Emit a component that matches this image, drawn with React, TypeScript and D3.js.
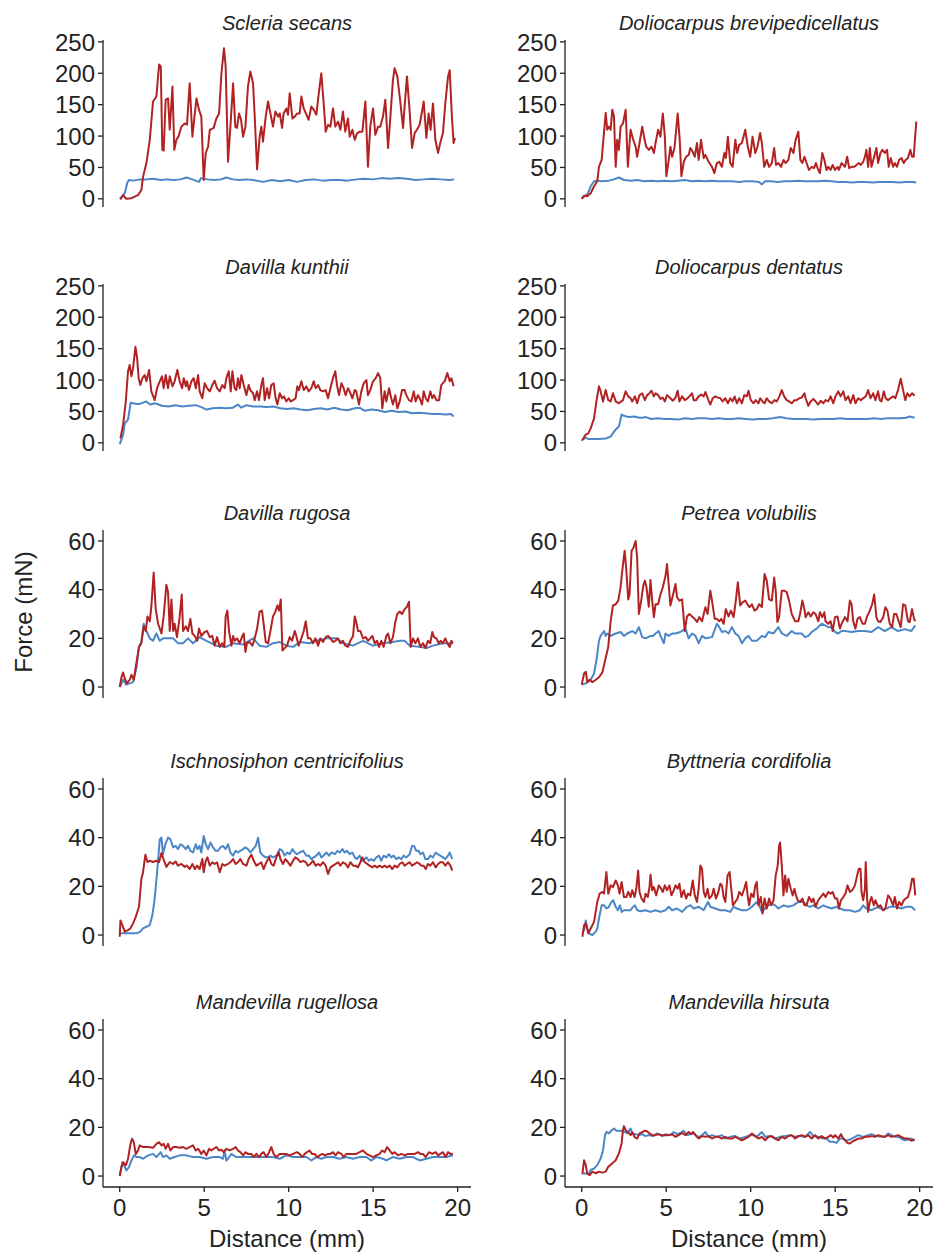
import React from 'react';
import * as d3 from 'd3';

type Pt = [number, number];

const panelTitles = [
  'Scleria secans', 'Doliocarpus brevipedicellatus',
  'Davilla kunthii', 'Doliocarpus dentatus',
  'Davilla rugosa', 'Petrea volubilis',
  'Ischnosiphon centricifolius', 'Byttneria cordifolia',
  'Mandevilla rugellosa', 'Mandevilla hirsuta',
];
const yTicksHigh = [0, 50, 100, 150, 200, 250];
const yTicksLow = [0, 20, 40, 60];
const xTicks = [0, 5, 10, 15, 20];

const scleriaRed: Pt[] = [[0.04,-1],[0.2,6],[0.39,0],[0.7,1],[1.08,6],[1.28,14],[1.38,35],[1.58,57],[1.78,94],[1.97,155],[2.17,163],[2.33,214],[2.43,211],[2.52,78],[2.6,77],[2.72,158],[2.86,160],[2.96,110],[3.12,179],[3.23,78],[3.35,94],[3.47,99],[3.65,115],[3.85,120],[3.98,118],[4.14,184],[4.3,99],[4.54,160],[4.69,142],[4.83,131],[4.97,30],[5.09,73],[5.23,83],[5.33,110],[5.56,113],[5.72,128],[5.88,136],[6.02,200],[6.17,240],[6.27,211],[6.41,59],[6.55,115],[6.71,184],[6.84,115],[6.94,113],[7.06,136],[7.18,126],[7.3,99],[7.44,115],[7.59,179],[7.73,203],[7.89,184],[7.99,131],[8.13,47],[8.28,99],[8.38,115],[8.48,91],[8.64,131],[8.78,155],[8.92,136],[9.07,115],[9.21,139],[9.37,131],[9.47,136],[9.61,113],[9.7,136],[9.86,144],[9.96,134],[10.06,168],[10.22,128],[10.36,131],[10.49,136],[10.65,136],[10.75,163],[10.89,144],[11.05,134],[11.18,126],[11.34,147],[11.48,142],[11.64,134],[11.78,168],[11.93,200],[12.07,152],[12.19,107],[12.33,118],[12.47,115],[12.62,144],[12.76,115],[12.92,123],[13.06,110],[13.21,139],[13.35,107],[13.51,128],[13.61,99],[13.77,110],[13.91,94],[14.04,104],[14.2,107],[14.36,107],[14.54,155],[14.69,51],[14.83,115],[14.99,144],[15.13,102],[15.29,115],[15.42,115],[15.58,131],[15.72,158],[15.88,81],[16.02,131],[16.17,189],[16.27,208],[16.43,195],[16.57,163],[16.77,113],[16.86,147],[17.0,195],[17.16,139],[17.3,81],[17.46,105],[17.59,110],[17.75,118],[17.89,139],[17.99,155],[18.15,97],[18.28,136],[18.4,110],[18.54,152],[18.68,94],[18.84,73],[18.97,89],[19.13,105],[19.27,152],[19.43,195],[19.53,205],[19.66,131],[19.76,89],[19.84,97]];
const scleriaBlue: Pt[] = [[0,0],[0.15,4],[0.3,9],[0.45,26],[0.55,30],[0.8,29],[1.2,31],[1.6,31],[2.0,32],[2.4,30],[2.8,31],[3.2,30],[3.6,31],[3.95,34],[4.3,31],[4.7,27],[4.8,33],[5.2,31],[5.6,30],[6.0,31],[6.3,34],[6.7,31],[7.1,30],[7.5,31],[7.9,30],[8.5,27],[9.0,30],[9.5,28],[10,30],[10.5,27],[11,30],[11.5,31],[12,29],[12.5,30],[13,30],[13.5,29],[14,31],[14.5,32],[15,31],[15.5,33],[16,32],[16.5,33],[17,32],[17.5,30],[18,31],[18.5,32],[19,31],[19.5,30],[19.8,31]];

const brevRed: Pt[] = [[0,0],[0.14,5],[0.33,4],[0.53,9],[0.73,20],[0.92,28],[1.02,51],[1.18,62],[1.28,94],[1.42,137],[1.51,110],[1.61,115],[1.71,110],[1.81,142],[1.91,131],[2.01,51],[2.1,94],[2.2,78],[2.3,115],[2.44,120],[2.6,142],[2.73,51],[2.89,110],[3.05,94],[3.19,83],[3.28,67],[3.42,89],[3.58,115],[3.72,94],[3.82,83],[3.97,78],[4.13,83],[4.27,73],[4.37,89],[4.52,110],[4.66,99],[4.8,136],[4.92,99],[5.01,36],[5.15,62],[5.25,83],[5.35,67],[5.49,81],[5.68,136],[5.8,94],[5.9,36],[6.04,59],[6.18,67],[6.33,70],[6.43,81],[6.57,75],[6.69,67],[6.82,89],[6.92,62],[7.06,94],[7.22,65],[7.32,70],[7.51,59],[7.71,51],[7.85,41],[8.0,57],[8.14,59],[8.3,51],[8.44,73],[8.53,65],[8.65,99],[8.79,57],[8.93,51],[9.09,94],[9.2,73],[9.32,86],[9.48,89],[9.68,110],[9.83,83],[9.97,67],[10.11,99],[10.27,73],[10.4,83],[10.56,105],[10.66,89],[10.8,51],[10.95,62],[11.09,51],[11.25,57],[11.39,81],[11.5,54],[11.64,57],[11.8,51],[11.94,62],[12.07,57],[12.23,62],[12.37,81],[12.53,73],[12.66,94],[12.82,107],[12.94,62],[13.06,57],[13.18,67],[13.31,57],[13.45,46],[13.61,51],[13.75,49],[13.86,57],[14.0,46],[14.1,41],[14.24,73],[14.36,62],[14.49,46],[14.59,51],[14.73,46],[14.85,54],[14.99,46],[15.14,51],[15.22,46],[15.38,57],[15.58,51],[15.71,67],[15.83,49],[15.97,51],[16.13,51],[16.26,54],[16.4,57],[16.52,54],[16.66,59],[16.76,67],[16.85,78],[16.95,51],[17.05,81],[17.15,51],[17.31,67],[17.44,81],[17.54,57],[17.68,73],[17.8,78],[17.94,73],[18.07,78],[18.17,51],[18.29,65],[18.43,51],[18.53,57],[18.66,51],[18.78,62],[18.92,65],[19.06,57],[19.17,62],[19.31,65],[19.45,78],[19.55,67],[19.65,67],[19.8,123]];
const brevBlue: Pt[] = [[0,0],[0.2,5],[0.35,8],[0.53,20],[0.73,28],[0.9,29],[1.2,28],[1.6,29],[1.9,31],[2.2,34],[2.5,30],[2.9,29],[3.3,30],[3.7,28],[4.1,29],[4.5,28],[4.9,29],[5.3,28],[5.7,29],[6.1,30],[6.5,28],[6.9,29],[7.3,28],[7.7,29],[8.1,28],[8.5,28],[8.9,28],[9.3,27],[9.7,28],[10.1,28],[10.5,27],[10.66,23],[10.85,28],[11.2,28],[11.6,27],[12.0,28],[12.4,28],[12.8,29],[13.2,28],[13.6,28],[14.0,28],[14.4,29],[14.8,28],[15.2,27],[15.6,27],[16.0,26],[16.4,27],[16.8,27],[17.2,26],[17.6,27],[18.0,27],[18.4,27],[18.8,26],[19.2,27],[19.6,27],[19.8,26]];

const kunthiiRed: Pt[] = [[0.04,7],[0.2,29],[0.36,66],[0.49,114],[0.59,124],[0.69,106],[0.79,119],[0.93,153],[1.03,135],[1.12,103],[1.22,92],[1.34,103],[1.48,108],[1.58,98],[1.74,116],[1.87,82],[2.07,68],[2.21,87],[2.37,98],[2.5,106],[2.6,87],[2.72,108],[2.86,87],[2.96,106],[3.12,90],[3.25,98],[3.41,116],[3.55,98],[3.69,87],[3.79,103],[3.91,90],[3.98,98],[4.1,84],[4.24,98],[4.38,103],[4.5,87],[4.64,108],[4.73,82],[4.89,71],[5.03,95],[5.17,87],[5.33,82],[5.48,92],[5.62,99],[5.76,87],[5.92,82],[6.07,92],[6.21,87],[6.31,103],[6.45,114],[6.57,82],[6.67,114],[6.8,87],[6.9,84],[7.0,103],[7.1,87],[7.2,108],[7.34,92],[7.5,76],[7.63,92],[7.73,84],[7.89,79],[7.99,68],[8.13,82],[8.24,68],[8.38,92],[8.48,103],[8.58,68],[8.72,87],[8.84,71],[8.97,92],[9.11,95],[9.23,71],[9.33,61],[9.47,79],[9.61,71],[9.72,74],[9.86,66],[10.0,71],[10.12,66],[10.26,68],[10.41,71],[10.51,90],[10.61,84],[10.75,98],[10.89,84],[11.05,90],[11.18,82],[11.34,87],[11.48,98],[11.6,87],[11.74,92],[11.87,84],[12.03,82],[12.19,84],[12.33,71],[12.47,87],[12.62,103],[12.76,114],[12.86,92],[12.98,76],[13.12,95],[13.25,87],[13.37,76],[13.51,87],[13.61,82],[13.77,71],[13.91,84],[14.0,82],[14.16,61],[14.3,82],[14.44,95],[14.6,100],[14.69,76],[14.83,84],[14.99,98],[15.15,103],[15.29,111],[15.42,103],[15.54,55],[15.68,82],[15.78,66],[15.94,87],[16.07,71],[16.17,61],[16.31,76],[16.43,55],[16.57,66],[16.71,84],[16.86,84],[16.96,76],[17.12,68],[17.26,66],[17.4,82],[17.51,66],[17.65,76],[17.75,71],[17.89,61],[17.99,82],[18.11,71],[18.24,66],[18.38,82],[18.5,71],[18.6,76],[18.74,68],[18.9,68],[19.03,92],[19.13,95],[19.23,98],[19.39,111],[19.53,98],[19.63,103],[19.76,90]];
const kunthiiBlue: Pt[] = [[0,-2],[0.2,13],[0.3,31],[0.49,37],[0.65,64],[0.79,63],[1.0,62],[1.18,62],[1.58,66],[1.8,61],[2.1,63],[2.5,59],[2.9,58],[3.3,60],[3.7,58],[4.1,59],[4.5,60],[4.9,56],[5.13,53],[5.5,55],[5.9,56],[6.3,55],[6.7,56],[7.0,61],[7.2,56],[7.5,60],[7.9,58],[8.3,58],[8.7,57],[9.1,58],[9.5,55],[9.9,54],[10.3,55],[10.7,53],[11.1,52],[11.5,54],[11.9,55],[12.3,53],[12.7,56],[13.1,53],[13.5,52],[13.9,55],[14.2,56],[14.5,51],[14.9,53],[15.3,52],[15.7,49],[16.1,51],[16.5,49],[16.9,50],[17.3,47],[17.7,48],[18.1,47],[18.5,46],[18.9,46],[19.3,45],[19.6,46],[19.76,42]];

const dentatusRed: Pt[] = [[0.04,5],[0.24,13],[0.39,15],[0.53,23],[0.73,39],[0.87,66],[1.02,90],[1.12,82],[1.26,66],[1.42,84],[1.57,68],[1.71,66],[1.85,79],[2.01,66],[2.2,63],[2.44,68],[2.6,82],[2.75,74],[2.89,71],[2.99,66],[3.15,74],[3.28,63],[3.42,76],[3.58,79],[3.74,68],[3.87,76],[4.01,79],[4.13,83],[4.27,74],[4.37,79],[4.52,76],[4.66,70],[4.8,72],[4.92,66],[5.05,76],[5.25,71],[5.39,67],[5.55,72],[5.68,83],[5.78,66],[5.94,74],[6.1,68],[6.23,70],[6.37,74],[6.53,79],[6.63,68],[6.77,68],[6.92,74],[7.08,77],[7.22,74],[7.32,81],[7.47,70],[7.61,61],[7.75,71],[7.91,74],[8.06,72],[8.2,71],[8.34,66],[8.5,71],[8.65,63],[8.79,71],[8.93,66],[9.05,74],[9.18,63],[9.32,71],[9.48,63],[9.62,76],[9.77,74],[9.87,83],[10.01,68],[10.17,63],[10.3,68],[10.46,63],[10.56,71],[10.7,66],[10.82,63],[10.95,71],[11.09,66],[11.25,63],[11.41,68],[11.54,66],[11.7,74],[11.84,84],[11.98,74],[12.13,68],[12.27,66],[12.43,63],[12.59,68],[12.72,68],[12.88,71],[13.02,72],[13.18,79],[13.25,71],[13.41,59],[13.55,66],[13.71,70],[13.84,66],[14.0,61],[14.14,67],[14.3,63],[14.43,68],[14.59,66],[14.73,74],[14.89,63],[15.02,74],[15.18,82],[15.32,74],[15.48,82],[15.61,68],[15.77,74],[15.91,63],[16.07,76],[16.2,63],[16.36,71],[16.52,68],[16.66,71],[16.81,74],[16.95,84],[17.09,71],[17.25,79],[17.38,68],[17.54,82],[17.64,68],[17.74,66],[17.88,82],[17.99,71],[18.13,68],[18.27,71],[18.43,74],[18.56,71],[18.72,84],[18.88,102],[19.02,84],[19.15,68],[19.27,79],[19.41,74],[19.55,79],[19.7,75]];
const dentatusBlue: Pt[] = [[0,3],[0.04,5],[0.24,8],[0.43,6],[0.63,6],[1.02,6],[1.42,7],[1.71,10],[2.0,21],[2.2,26],[2.36,45],[2.5,43],[2.8,41],[3.1,42],[3.4,40],[3.6,40],[3.8,41],[4.1,38],[4.5,39],[4.9,38],[5.3,38],[5.7,37],[6.1,39],[6.5,38],[6.9,39],[7.3,39],[7.7,38],[8.1,39],[8.5,38],[8.9,38],[9.3,39],[9.7,38],[10.1,37],[10.5,38],[10.9,38],[11.3,39],[11.74,41],[12.1,39],[12.5,38],[12.9,38],[13.3,38],[13.7,37],[14.1,38],[14.5,38],[14.9,38],[15.3,39],[15.7,38],[16.1,38],[16.5,38],[16.9,38],[17.3,39],[17.7,38],[18.1,39],[18.5,39],[18.9,39],[19.2,40],[19.4,42],[19.7,40]];

const rugosaRed: Pt[] = [[0,0],[0.1,4],[0.2,6],[0.3,3.5],[0.43,1.5],[0.59,3],[0.69,5],[0.83,3],[0.99,10],[1.14,16.5],[1.28,18],[1.42,25],[1.54,23],[1.64,29],[1.78,27],[1.87,33],[2.01,47],[2.13,32],[2.27,26],[2.47,22],[2.6,29],[2.76,42],[2.86,39],[2.96,23],[3.06,36],[3.16,23],[3.25,26],[3.39,20.5],[3.55,29],[3.67,38],[3.75,23],[3.91,25],[4.04,23],[4.18,28],[4.3,22],[4.44,21],[4.58,19],[4.69,24],[4.83,21],[5.03,22.6],[5.17,23],[5.33,20.5],[5.48,21],[5.62,17],[5.76,20.5],[5.92,16.5],[6.06,18],[6.19,16.5],[6.27,29],[6.37,31.4],[6.47,23],[6.61,17],[6.71,21],[6.8,19],[6.94,20],[7.1,18],[7.26,21],[7.34,22],[7.44,14.4],[7.53,18],[7.69,18.5],[7.85,17],[7.99,20],[8.13,24],[8.28,31],[8.42,31.4],[8.54,24.6],[8.64,18.5],[8.78,18],[8.92,23],[9.07,29],[9.21,31],[9.33,33.5],[9.43,31.4],[9.53,36],[9.63,15],[9.76,16],[9.9,17],[10.06,20.5],[10.2,19],[10.36,23],[10.45,21],[10.59,17],[10.75,20],[10.89,23],[11.01,27],[11.14,20],[11.28,20],[11.44,18],[11.58,20],[11.74,17],[11.87,20],[12.03,18.5],[12.19,20.5],[12.33,21],[12.47,20],[12.62,18.5],[12.76,19],[12.92,20],[13.06,18],[13.21,19],[13.35,17],[13.51,16.5],[13.65,19],[13.81,21],[13.91,29],[14.0,26.7],[14.1,23],[14.24,23],[14.4,20],[14.56,20.5],[14.69,19],[14.83,20],[14.95,21],[15.09,18],[15.23,19],[15.35,16.5],[15.48,19],[15.62,16.5],[15.78,21],[15.88,22],[16.02,18],[16.17,20.5],[16.31,26.7],[16.43,30],[16.57,31],[16.71,30],[16.86,32],[17.0,33],[17.12,35],[17.22,16.5],[17.36,20],[17.5,18],[17.65,20],[17.79,16.5],[17.95,18],[18.09,16],[18.24,19],[18.38,18],[18.5,22.6],[18.6,20.5],[18.74,20],[18.88,18],[18.99,19],[19.13,18],[19.27,20],[19.39,18],[19.53,16.5],[19.63,19],[19.72,18]];
const rugosaBlue: Pt[] = [[0,0],[0.2,3],[0.39,1],[0.59,1.5],[0.79,2],[0.99,8],[1.14,16.5],[1.28,18.5],[1.42,26],[1.58,23],[1.78,20],[1.97,19],[2.17,22],[2.37,19],[2.56,20],[2.9,20],[3.16,20],[3.45,18],[3.75,18],[4.04,20],[4.34,18],[4.73,20.5],[5.13,19],[5.72,17],[6.31,16.5],[6.71,18],[7.3,17.5],[7.89,20],[8.28,17],[8.68,16.5],[9.07,18],[9.47,18.5],[9.86,17],[10.26,16.5],[10.65,18.5],[11.24,18],[11.64,19],[12.23,20],[12.82,20],[13.21,18],[13.8,17],[14.4,19],[14.99,17],[15.58,18],[16.17,18.5],[16.57,19],[16.86,19],[17.16,17],[17.75,16.5],[18.15,16],[18.54,17],[19.13,18],[19.72,18]];

const petreaRed: Pt[] = [[0,1],[0.14,5.6],[0.24,6.3],[0.33,2],[0.47,3],[0.63,2],[0.83,3],[1.02,4],[1.22,6],[1.42,12],[1.57,16.5],[1.71,27],[1.85,33.5],[2.01,34],[2.16,35.5],[2.3,41],[2.4,47.8],[2.54,56],[2.64,48],[2.75,36],[2.83,38],[2.95,56],[3.05,57],[3.19,60],[3.28,53],[3.38,30],[3.52,35.5],[3.64,41.6],[3.74,43.7],[3.83,41],[3.97,33],[4.07,44],[4.17,35.5],[4.27,28.7],[4.37,34],[4.52,34],[4.66,38],[4.8,41],[4.96,45.7],[5.05,50.5],[5.15,41.6],[5.25,33.5],[5.39,37.5],[5.55,42.3],[5.64,36.9],[5.78,35.5],[5.94,36],[6.1,23],[6.23,29],[6.37,30],[6.53,29],[6.69,28],[6.82,26.7],[6.96,28.7],[7.12,27],[7.32,32.8],[7.45,30],[7.61,39.6],[7.71,35.5],[7.87,28],[8.0,28],[8.14,27],[8.26,28],[8.4,26],[8.53,32],[8.69,29],[8.83,31.4],[8.99,28.7],[9.12,35.5],[9.24,43],[9.38,33.5],[9.52,34.8],[9.68,35.5],[9.81,34],[9.93,32.8],[10.07,34],[10.23,31.4],[10.36,32],[10.5,34],[10.66,32.8],[10.82,46.4],[10.95,43.7],[11.09,36],[11.25,35.5],[11.39,45],[11.48,39.6],[11.58,26.7],[11.68,28.7],[11.84,39.6],[11.98,39.6],[12.13,39],[12.27,35.5],[12.43,30],[12.63,27],[12.82,27],[12.92,30],[13.06,35.5],[13.18,32],[13.25,28.7],[13.41,30.7],[13.55,29],[13.71,30.7],[13.84,30],[14.0,27],[14.1,30.7],[14.24,28.7],[14.36,30.7],[14.43,27],[14.59,26],[14.73,27],[14.85,23],[14.99,28.7],[15.14,29],[15.28,24],[15.38,26],[15.58,28.7],[15.73,27],[15.87,35.5],[15.97,34],[16.07,27],[16.2,24],[16.32,28],[16.46,28.7],[16.62,26],[16.76,26],[16.89,29],[17.05,31.4],[17.19,34],[17.31,38],[17.44,28.7],[17.54,27],[17.68,26.7],[17.84,28.7],[17.97,32.8],[18.09,31.4],[18.23,26],[18.37,24.6],[18.49,30],[18.62,30],[18.76,27],[18.88,24.6],[19.02,34],[19.15,33.5],[19.31,27],[19.41,26.7],[19.55,32],[19.67,28],[19.74,27]];
const petreaBlue: Pt[] = [[0,1],[0.24,1.5],[0.53,3],[0.73,5.6],[0.87,11],[1.02,19],[1.12,21],[1.32,23],[1.42,21],[1.51,22],[1.71,21],[2.01,22],[2.3,22.6],[2.5,21],[2.69,22],[2.99,23],[3.19,22],[3.38,24.6],[3.58,20.5],[3.78,20],[4.07,21],[4.21,21],[4.37,22],[4.56,23],[4.66,21],[4.86,18],[4.96,22],[5.15,21],[5.35,22],[5.55,22],[5.84,22.6],[6.14,24],[6.33,20],[6.53,22],[6.73,21],[6.92,18],[7.12,21],[7.32,20],[7.71,20.5],[8.0,26],[8.14,24.6],[8.3,22.6],[8.5,23],[8.69,22],[8.89,24.6],[9.09,22],[9.28,21],[9.48,18],[9.68,20],[9.87,21],[10.07,19],[10.36,19],[10.66,21],[10.86,20.5],[11.05,22.6],[11.35,22],[11.64,24.6],[11.84,22],[12.13,21],[12.43,23],[12.63,22],[13.02,22],[13.22,20.5],[13.41,21],[13.61,22.6],[13.9,24],[14.2,26],[14.4,25.3],[14.59,24.6],[14.79,24.6],[14.99,22.6],[15.18,22],[15.38,23],[15.58,23],[15.97,22.6],[16.36,23],[16.76,23],[17.15,22.6],[17.54,24.6],[17.94,23],[18.33,24.6],[18.72,23],[19.12,23.8],[19.51,23],[19.74,25.3]];

const ischnoRed: Pt[] = [[0,-0.7],[0.04,6],[0.16,4],[0.3,1.4],[0.49,2],[0.63,2.7],[0.79,4.8],[0.95,7.5],[1.14,11.6],[1.28,23],[1.38,25.8],[1.52,33],[1.64,30],[1.78,30.5],[1.97,30],[2.17,30.5],[2.33,30],[2.47,33.7],[2.6,31],[2.76,28],[2.96,30],[3.16,29.2],[3.31,30.2],[3.45,28.5],[3.65,29.2],[3.85,28],[3.98,28.5],[4.14,27.1],[4.3,29.2],[4.44,27.1],[4.58,28.5],[4.73,27.1],[4.89,31.2],[4.97,25.8],[5.09,30.5],[5.19,31.9],[5.33,28.5],[5.48,29.9],[5.62,29.2],[5.76,29.9],[5.92,25.8],[6.07,29.2],[6.21,28.5],[6.41,29.2],[6.55,29.9],[6.71,31.2],[6.86,29.2],[7.0,29.9],[7.14,31.2],[7.3,29.2],[7.5,28.5],[7.63,31.2],[7.79,33],[7.93,30.5],[8.09,28.5],[8.24,29.2],[8.38,29.9],[8.52,27.1],[8.68,29.9],[8.84,31.9],[8.97,29.2],[9.11,28.5],[9.27,31.9],[9.41,34],[9.51,31.2],[9.66,29.2],[9.8,31.2],[9.96,29.9],[10.1,28.5],[10.26,30.5],[10.39,31.9],[10.55,31.2],[10.69,29.9],[10.85,30.5],[11.01,29.9],[11.14,28.5],[11.28,29.2],[11.44,30.5],[11.6,28.5],[11.74,29.2],[11.87,28.5],[12.03,29.9],[12.19,28.5],[12.33,25.1],[12.47,27.8],[12.62,28.5],[12.78,29.2],[12.92,29.9],[13.06,28.5],[13.21,29.9],[13.37,29.2],[13.51,27.8],[13.65,29.9],[13.81,28.5],[13.96,28.5],[14.1,27.8],[14.24,29.9],[14.36,31.9],[14.5,29.9],[14.65,29.2],[14.79,28.5],[14.95,27.8],[15.09,28.5],[15.23,27.8],[15.38,28.5],[15.54,27.8],[15.68,28.5],[15.82,27.8],[15.98,28.5],[16.13,27.1],[16.27,28.5],[16.43,27.8],[16.57,29.2],[16.73,29.9],[16.86,28.5],[17.0,29.2],[17.16,29.9],[17.3,28.5],[17.46,29.2],[17.59,29.9],[17.75,29.2],[17.85,28.5],[17.99,28.5],[18.11,27.1],[18.24,29.2],[18.38,28.5],[18.54,29.9],[18.7,27.8],[18.84,29.2],[18.97,29.9],[19.13,29.9],[19.27,28.5],[19.43,29.9],[19.57,28.5],[19.68,26.5]];
const ischnoBlue: Pt[] = [[0,0.7],[0.2,0.7],[0.59,0.7],[0.99,0.7],[1.22,1.4],[1.38,2.7],[1.58,3.4],[1.78,4.1],[1.93,8.1],[2.07,14.9],[2.21,25.8],[2.37,39.3],[2.47,40],[2.56,33.2],[2.7,37.3],[2.86,40],[3.0,39.3],[3.16,36],[3.31,36.6],[3.45,35.3],[3.59,37.3],[3.75,36.6],[3.91,35.3],[4.04,36.6],[4.18,34.6],[4.34,33.9],[4.5,37.3],[4.6,35.3],[4.73,36.6],[4.83,33.9],[4.97,40.7],[5.09,37.3],[5.23,35.3],[5.37,38],[5.52,36],[5.68,34.6],[5.82,34.6],[5.96,36],[6.11,36.6],[6.27,35.3],[6.41,37.3],[6.55,33.9],[6.71,32.6],[6.86,34.6],[7.0,33.9],[7.14,34.6],[7.3,35.3],[7.44,36],[7.59,35.3],[7.73,33.9],[7.89,35.3],[8.05,36.6],[8.19,40],[8.32,33.9],[8.48,32.6],[8.64,31.9],[8.78,31.9],[8.92,32.6],[9.07,31.9],[9.27,32.6],[9.47,35.3],[9.63,34.6],[9.76,32.6],[9.92,33.9],[10.06,33.2],[10.22,35.3],[10.36,33.9],[10.49,33.2],[10.65,33.9],[10.85,34.6],[11.05,32.6],[11.2,32.6],[11.34,31.2],[11.48,31.9],[11.64,32.6],[11.8,33.9],[11.93,31.9],[12.07,32.6],[12.23,33.9],[12.39,32.6],[12.53,33.9],[12.74,33.2],[12.88,34.6],[13.02,33.9],[13.18,35.3],[13.31,33.9],[13.45,34.6],[13.61,33.2],[13.77,33.9],[13.91,31.9],[14.04,31.2],[14.2,32.6],[14.34,30.5],[14.5,31.2],[14.6,31.9],[14.75,30.5],[14.89,31.2],[15.03,30.5],[15.19,31.9],[15.35,32.6],[15.48,30.5],[15.62,32.6],[15.78,31.9],[15.94,33.2],[16.07,31.9],[16.21,32.6],[16.37,31.2],[16.51,31.9],[16.67,31.2],[16.8,32.6],[16.96,31.9],[17.16,33.2],[17.3,36.6],[17.42,36.6],[17.55,34.6],[17.69,34.6],[17.79,33.2],[17.95,33.9],[18.09,31.2],[18.24,31.2],[18.38,32.6],[18.54,31.9],[18.7,33.9],[18.84,33.2],[18.97,32.6],[19.13,31.9],[19.27,31.2],[19.43,32.6],[19.53,33.9],[19.68,31.2]];

const byttRed: Pt[] = [[0.04,-0.7],[0.14,4],[0.24,4.8],[0.39,0.7],[0.53,2.7],[0.73,5.4],[0.92,13.6],[1.06,17],[1.22,17.7],[1.32,17],[1.46,25.9],[1.57,17],[1.71,20.4],[1.85,19.7],[2.01,22.4],[2.14,20.4],[2.24,17],[2.36,21.8],[2.5,15.6],[2.64,15.6],[2.75,17.7],[2.89,15.6],[2.99,18.4],[3.13,15.6],[3.23,19],[3.34,26.5],[3.42,17.7],[3.54,15],[3.68,13.6],[3.78,17],[3.91,15.6],[4.01,19.7],[4.07,24.8],[4.17,18.4],[4.27,19.7],[4.41,16.3],[4.56,20.4],[4.7,19],[4.8,17.7],[4.92,20.4],[5.05,18.4],[5.19,20.4],[5.31,16.3],[5.45,18.4],[5.55,20.4],[5.68,19],[5.78,21.1],[5.9,15.6],[6.04,18.4],[6.18,15],[6.29,17],[6.43,16.3],[6.57,22.4],[6.69,16.3],[6.82,13.6],[6.92,19],[7.02,28.6],[7.12,27.2],[7.22,17.7],[7.32,15.6],[7.45,19],[7.55,15],[7.71,16.3],[7.81,19],[7.94,15],[8.06,17],[8.2,21.1],[8.3,20.4],[8.4,15.6],[8.5,13.6],[8.63,24.5],[8.75,25.9],[8.85,19],[8.95,12.2],[9.09,13.6],[9.22,15],[9.32,17.7],[9.48,16.3],[9.62,19],[9.73,21.8],[9.83,15.6],[9.91,12.2],[10.03,17],[10.17,15.6],[10.27,20.4],[10.36,21.8],[10.46,12.2],[10.6,15.6],[10.7,8.8],[10.82,15],[10.95,10.9],[11.09,15],[11.21,12.2],[11.35,14.3],[11.48,24.5],[11.6,28.6],[11.68,36.7],[11.74,38],[11.84,28.6],[11.94,16.3],[12.04,24.5],[12.13,17.7],[12.23,23.1],[12.37,19],[12.49,16.3],[12.59,19],[12.68,16.3],[12.78,14.3],[12.92,13.6],[13.06,15],[13.18,12.2],[13.31,12.2],[13.45,15.6],[13.61,13.6],[13.71,15],[13.84,11.6],[14.0,14.3],[14.14,15.6],[14.3,17],[14.43,15.6],[14.59,17.7],[14.73,17],[14.85,17.7],[14.99,15],[15.12,15],[15.22,10.9],[15.34,14.3],[15.48,15.6],[15.61,17],[15.73,20.4],[15.87,17.7],[16.01,18.4],[16.17,20.4],[16.3,24.5],[16.4,27.2],[16.5,27.2],[16.56,17.7],[16.66,14.3],[16.76,19],[16.81,30],[16.89,15],[16.95,9.5],[17.05,13.6],[17.15,15.6],[17.29,12.2],[17.38,14.3],[17.54,11.6],[17.68,12.2],[17.84,10.2],[17.97,10.9],[18.13,16.3],[18.27,15],[18.43,12.2],[18.53,15.6],[18.66,10.9],[18.78,13.6],[18.92,12.2],[19.06,14.3],[19.17,15],[19.31,15.6],[19.45,19],[19.55,23.1],[19.65,23.1],[19.74,16.3]];
const byttBlue: Pt[] = [[0.04,1.4],[0.14,2],[0.24,6],[0.33,2.7],[0.43,0.7],[0.63,0],[0.83,1.4],[0.92,2.7],[1.02,6.8],[1.18,12.2],[1.32,12.2],[1.46,10.9],[1.61,11.6],[1.75,13.6],[1.87,14.3],[2.01,11.6],[2.14,10.2],[2.26,12.2],[2.36,9.5],[2.5,10.2],[2.69,10.2],[2.89,10.2],[2.99,11.2],[3.15,12.2],[3.28,10.2],[3.48,9.8],[3.78,10.2],[4.07,9.5],[4.37,10.2],[4.66,9.5],[4.96,10.2],[5.15,11.6],[5.35,10.2],[5.64,10.9],[5.94,9.5],[6.23,11.6],[6.43,12.2],[6.63,10.9],[6.92,11.6],[7.22,10.2],[7.47,13.6],[7.61,11.6],[7.91,10.9],[8.2,10.2],[8.5,10.2],[8.79,9.5],[8.99,11.6],[9.18,10.9],[9.48,10.2],[9.77,10.2],[10.07,11.6],[10.36,13.6],[10.5,12.2],[10.66,9.5],[10.86,10.9],[11.05,12.2],[11.25,12.9],[11.45,12.2],[11.64,10.9],[11.94,12.2],[12.23,11.6],[12.53,12.2],[12.82,13.6],[13.12,13.6],[13.31,12.2],[13.51,11.6],[13.71,12.2],[14.0,10.9],[14.3,12.2],[14.49,11.6],[14.79,10.9],[15.08,11.6],[15.28,10.9],[15.58,10.2],[15.87,10.2],[16.17,9.5],[16.46,10.2],[16.66,12.2],[16.85,10.9],[17.15,10.2],[17.54,11.6],[17.84,10.2],[18.23,11.6],[18.62,11.6],[18.92,10.9],[19.21,11.6],[19.51,11.6],[19.74,10.2]];

const rugellosaRed: Pt[] = [[0,0],[0.1,3.7],[0.2,5.7],[0.36,4.4],[0.49,7],[0.63,13],[0.73,15.3],[0.83,14],[0.95,9],[1.08,10.5],[1.18,12.6],[1.38,11.9],[1.68,11.9],[1.97,11.6],[2.17,13.2],[2.33,13.9],[2.47,12.6],[2.6,13.2],[2.72,11.2],[2.86,13.2],[3.0,10.5],[3.16,11.9],[3.35,11.9],[3.55,11.6],[3.75,11.9],[3.94,11.2],[4.18,12.1],[4.34,12.6],[4.5,10.5],[4.64,11.2],[4.83,9.1],[4.97,10.5],[5.13,8.5],[5.29,11.2],[5.42,10.5],[5.56,11.2],[5.72,11.9],[5.88,10.5],[6.02,10.8],[6.15,9.8],[6.31,11.2],[6.51,10.5],[6.71,11.2],[6.86,11.9],[7.0,10.5],[7.14,9.8],[7.3,8.5],[7.46,9.8],[7.59,9.1],[7.79,9.1],[7.93,7.8],[8.09,9.1],[8.24,7.8],[8.38,9.1],[8.52,9.8],[8.68,7.8],[8.84,9.8],[8.97,11.9],[9.11,9.1],[9.27,7.8],[9.47,9.1],[9.66,9.1],[9.86,9.1],[10.06,8.5],[10.26,9.1],[10.49,9.8],[10.65,9.1],[10.81,7.8],[10.95,9.1],[11.08,9.8],[11.24,10.5],[11.38,9.1],[11.54,9.1],[11.68,7.8],[11.83,8.5],[11.99,9.1],[12.15,8.5],[12.33,9.1],[12.47,9.1],[12.62,9.8],[12.78,8.5],[12.92,9.8],[13.12,9.1],[13.25,7.8],[13.41,9.1],[13.61,9.1],[13.81,9.1],[14.0,9.1],[14.2,9.8],[14.4,10.5],[14.6,9.1],[14.79,8.5],[14.99,7.8],[15.19,8.5],[15.38,9.1],[15.54,10.5],[15.68,9.8],[15.82,11.9],[15.98,10.5],[16.13,9.1],[16.27,9.8],[16.47,8.5],[16.67,9.1],[16.86,8.5],[17.06,9.1],[17.26,9.1],[17.46,9.1],[17.65,9.8],[17.79,9.1],[17.95,9.1],[18.11,7.8],[18.3,9.8],[18.5,9.1],[18.7,9.8],[18.84,8.5],[18.97,9.1],[19.13,9.8],[19.29,7.8],[19.43,9.8],[19.57,9.1],[19.72,9.1]];
const rugellosaBlue: Pt[] = [[0,0],[0.16,5.7],[0.3,3.7],[0.39,2.3],[0.55,3.7],[0.69,6.4],[0.85,8.5],[0.99,7.8],[1.18,7.8],[1.38,7.1],[1.68,8.5],[1.97,9.1],[2.17,7.8],[2.43,9.8],[2.56,7.8],[2.76,8.5],[2.96,7.1],[3.25,7.8],[3.55,8.5],[3.94,8.5],[4.34,7.8],[4.73,7.8],[5.13,7.1],[5.52,7.8],[5.92,7.8],[6.11,7.1],[6.21,10.5],[6.31,6.4],[6.41,7.1],[6.61,9.1],[6.9,7.8],[7.1,7.8],[7.5,7.8],[7.89,7.8],[8.28,7.8],[8.68,7.8],[9.07,7.8],[9.47,7.1],[9.86,8.5],[10.26,7.8],[10.65,7.8],[11.05,7.8],[11.34,6.4],[11.64,7.8],[11.93,7.1],[12.23,7.8],[12.62,7.8],[13.02,7.1],[13.41,7.8],[13.81,7.1],[14.2,7.8],[14.6,7.8],[14.89,6.4],[15.19,7.8],[15.58,7.1],[15.78,6.4],[16.17,7.8],[16.57,7.1],[16.96,7.8],[17.36,7.8],[17.75,6.4],[18.15,7.1],[18.54,7.8],[18.93,7.8],[19.33,7.8],[19.72,8.5]];

const hirsutaRed: Pt[] = [[0.04,1],[0.14,6.5],[0.24,4.5],[0.33,1],[0.47,0.4],[0.63,1.8],[0.83,1.1],[1.02,1.8],[1.22,1.4],[1.42,1.8],[1.57,3.8],[1.81,5.2],[2.01,6.5],[2.2,9.3],[2.36,13.4],[2.44,18.8],[2.5,20.5],[2.6,18.8],[2.75,18],[2.89,16.8],[2.99,18],[3.13,16],[3.28,15.4],[3.42,17.5],[3.58,18],[3.72,18.6],[3.87,18.4],[4.01,17.5],[4.17,16.8],[4.37,16.8],[4.56,17.2],[4.76,16.8],[4.96,16.8],[5.15,16.8],[5.35,17.2],[5.55,16.1],[5.74,16.8],[5.94,17.7],[6.14,16.8],[6.33,18.1],[6.49,17.2],[6.59,18.1],[6.73,16.8],[6.82,16.1],[6.92,15.4],[7.12,16.4],[7.32,16.1],[7.51,16.4],[7.71,15.4],[7.91,16.1],[8.1,16.1],[8.3,15.4],[8.5,16.1],[8.69,15.4],[8.89,15.4],[9.09,16.1],[9.28,15.4],[9.48,14.7],[9.68,15.4],[9.87,16.1],[10.07,17.5],[10.27,16.4],[10.46,15.4],[10.66,16.1],[10.86,14.7],[11.05,16.1],[11.25,16.4],[11.45,15.4],[11.64,14.7],[11.84,16.1],[12.04,15.4],[12.23,16.4],[12.43,16.8],[12.63,15.4],[12.82,16.4],[13.02,16.8],[13.22,16.1],[13.41,16.8],[13.61,15.4],[13.81,16.8],[14.0,15.4],[14.2,16.4],[14.4,15.4],[14.59,16.1],[14.75,16.8],[14.89,15.8],[14.99,16.8],[15.18,15.4],[15.34,17.2],[15.48,15.4],[15.61,14.5],[15.73,13.6],[15.87,13.4],[16.01,14.1],[16.17,14.7],[16.36,15.4],[16.56,15.4],[16.76,16.1],[16.95,16.1],[17.15,16.4],[17.35,16.1],[17.54,16.8],[17.74,16.4],[17.94,16.1],[18.13,16.8],[18.33,16.1],[18.53,16.4],[18.72,16.8],[18.92,16.1],[19.12,15.4],[19.31,15.4],[19.51,14.5],[19.7,15]];
const hirsutaBlue: Pt[] = [[0,1],[0.43,1],[0.53,2.5],[0.73,3.1],[0.92,4.5],[1.12,7.2],[1.26,10.6],[1.38,16.8],[1.46,18.1],[1.61,17.5],[1.77,18.8],[1.91,19.5],[2.05,18.6],[2.3,18.6],[2.56,18.1],[2.69,17.5],[2.89,19.5],[2.99,17.5],[3.19,17.2],[3.38,16.8],[3.58,17.2],[3.78,16.4],[3.97,16.8],[4.21,16.4],[4.46,17.5],[4.76,16.4],[4.96,17.2],[5.25,16.8],[5.45,18.1],[5.64,17.2],[5.84,17.7],[6.04,18.6],[6.23,16.8],[6.43,17.2],[6.63,17.7],[6.82,16.4],[7.02,16.1],[7.32,18.1],[7.51,16.1],[7.71,16.8],[8.0,16.1],[8.3,16.8],[8.5,15.4],[8.79,16.1],[9.09,16.4],[9.38,15.4],[9.68,16.1],[9.97,16.8],[10.17,16.8],[10.36,16.1],[10.66,18.1],[10.86,16.1],[11.15,16.4],[11.45,15.4],[11.74,16.1],[12.04,16.4],[12.33,16.8],[12.63,16.1],[12.92,16.4],[13.22,16.1],[13.51,18.1],[13.71,16.4],[14.0,16.1],[14.3,15.4],[14.49,15.4],[14.69,14.1],[14.89,14.1],[15.08,13.6],[15.28,15.4],[15.48,15.4],[15.67,14.5],[15.87,15],[16.17,16.1],[16.36,16.8],[16.66,16.1],[16.95,16.8],[17.15,17.2],[17.44,16.4],[17.74,16.1],[17.94,16.1],[18.13,17.5],[18.33,16.8],[18.53,16.1],[18.72,16.1],[18.92,15.4],[19.12,14.7],[19.31,15],[19.51,15.4],[19.7,14.7]];

const redSeries = [scleriaRed, brevRed, kunthiiRed, dentatusRed, rugosaRed, petreaRed, ischnoRed, byttRed, rugellosaRed, hirsutaRed];
const blueSeries = [scleriaBlue, brevBlue, kunthiiBlue, dentatusBlue, rugosaBlue, petreaBlue, ischnoBlue, byttBlue, rugellosaBlue, hirsutaBlue];

const W = 934;
const H = 1252;
const FONT = '"Liberation Sans", Arial, Helvetica, sans-serif';
const RED = '#b22222';
const BLUE = '#4a86c8';
const INK = '#222222';

const colLeft = [103, 565];
const panelWidth = 368;
const rowTop = [40, 284, 530, 778, 1019];
const rowBottom = [207, 451, 698, 946, 1187];

function Panel({ idx }: { idx: number }) {
  const col = idx % 2;
  const row = Math.floor(idx / 2);
  const x0 = colLeft[col];
  const x1 = x0 + panelWidth;
  const top = rowTop[row];
  const bottom = rowBottom[row];
  const high = row < 2;
  const xScale = d3.scaleLinear().domain([-0.99, 20.79]).range([x0, x1]);
  const yScale = d3.scaleLinear().domain(high ? [-13, 253] : [-4.5, 64.5]).range([bottom, top]);
  const yTicks = high ? yTicksHigh : yTicksLow;
  const line = d3.line<Pt>().x(d => xScale(d[0])).y(d => yScale(d[1]));
  const isBottom = row === 4;
  return (
    <g>
      <text x={(x0 + x1) / 2} y={top - 10} textAnchor="middle" fontStyle="italic" fontSize={20} fill={INK} fontFamily={FONT}>
        {panelTitles[idx]}
      </text>
      <path d={line(blueSeries[idx]) || ''} fill="none" stroke={BLUE} strokeWidth={2} strokeLinejoin="round" />
      <path d={line(redSeries[idx]) || ''} fill="none" stroke={RED} strokeWidth={2} strokeLinejoin="round" />
      <line x1={x0} x2={x0} y1={top} y2={bottom} stroke={INK} strokeWidth={1.3} />
      {yTicks.map(t => (
        <g key={t}>
          <line x1={x0 - 5} x2={x0} y1={yScale(t)} y2={yScale(t)} stroke={INK} strokeWidth={1.3} />
          <text x={x0 - 8} y={yScale(t)} dy="0.36em" textAnchor="end" fontSize={24} fill={INK} fontFamily={FONT}>{t}</text>
        </g>
      ))}
      {isBottom && (
        <g>
          <line x1={x0} x2={x1} y1={bottom} y2={bottom} stroke={INK} strokeWidth={1.3} />
          {xTicks.map(t => (
            <g key={t}>
              <line x1={xScale(t)} x2={xScale(t)} y1={bottom} y2={bottom + 5} stroke={INK} strokeWidth={1.3} />
              <text x={xScale(t)} y={bottom + 29} textAnchor="middle" fontSize={24} fill={INK} fontFamily={FONT}>{t}</text>
            </g>
          ))}
          <text x={(x0 + x1) / 2} y={bottom + 60} textAnchor="middle" fontSize={24} fill={INK} fontFamily={FONT}>Distance (mm)</text>
        </g>
      )}
    </g>
  );
}

export default function App() {
  return (
    <svg width={W} height={H} viewBox={`0 0 ${W} ${H}`} style={{ position: 'absolute', left: 0, top: 0, background: '#fff' }}>
      <rect x={0} y={0} width={W} height={H} fill="#fff" />
      {panelTitles.map((_, i) => <Panel key={i} idx={i} />)}
      <text transform={`translate(32, 612) rotate(-90)`} textAnchor="middle" fontSize={24} fill={INK} fontFamily={FONT}>Force (mN)</text>
    </svg>
  );
}
